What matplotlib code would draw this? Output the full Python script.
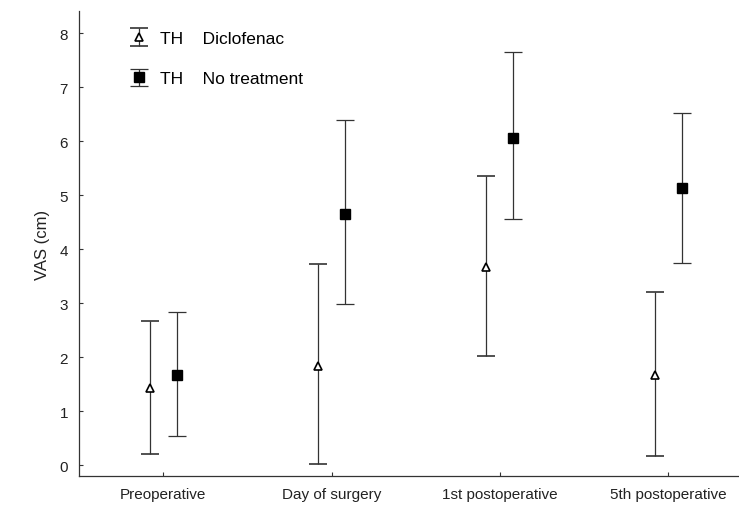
import matplotlib
matplotlib.use("Agg")
import matplotlib.pyplot as plt
import numpy as np

plt.rcParams['font.family'] = ['Liberation Sans', 'DejaVu Sans']

groups = ['Preoperative', 'Day of surgery', '1st postoperative', '5th postoperative']

# Diclofenac: mean, lower, upper
dic_mean = [1.43, 1.84, 3.67, 1.67]
dic_low = [0.20, 0.02, 2.02, 0.17]
dic_high = [2.67, 3.72, 5.35, 3.20]

# No treatment
nt_mean = [1.67, 4.65, 6.07, 5.13]
nt_low = [0.54, 2.98, 4.56, 3.75]
nt_high = [2.83, 6.39, 7.65, 6.53]

line_col = '#333333'
x = np.arange(len(groups))
off = 0.08

fig = plt.figure(figsize=(7.39, 5.10), dpi=100)
ax = fig.add_axes([0.107, 0.065, 0.893, 0.911])

dm = np.array(dic_mean)
ax.errorbar(x - off, dm, yerr=[dm - np.array(dic_low), np.array(dic_high) - dm],
            fmt='^', color=line_col, mfc='white', mec='black', mew=1.2, ms=6,
            ecolor=line_col, elinewidth=0.9, capsize=6.5, capthick=0.9,
            label='TH    Diclofenac')
nm = np.array(nt_mean)
ax.errorbar(x + off, nm, yerr=[nm - np.array(nt_low), np.array(nt_high) - nm],
            fmt='s', color=line_col, mfc='black', mec='black', ms=7,
            ecolor=line_col, elinewidth=0.9, capsize=6.5, capthick=0.9,
            label='TH    No treatment')

ax.set_xlim(-0.5, 3.42)
ax.set_ylim(-0.2, 8.41)
ax.set_xticks(x)
ax.set_xticklabels(groups)
ax.set_yticks(range(0, 9))
ax.set_ylabel('VAS (cm)', fontsize=12, color='#222222', labelpad=7)
ax.tick_params(direction='in', length=3, width=0.8, labelsize=11,
               colors=line_col, labelcolor='#222222')
ax.tick_params(axis='x', pad=8)
ax.tick_params(axis='y', pad=8)
for s in ['top', 'right']:
    ax.spines[s].set_visible(False)
for s in ['left', 'bottom']:
    ax.spines[s].set_color(line_col)
    ax.spines[s].set_linewidth(0.9)

ax.legend(loc='upper left', bbox_to_anchor=(124 / 739, 1 - 32 / 510),
          bbox_transform=fig.transFigure, frameon=False, borderpad=0,
          borderaxespad=0, fontsize=12.5, handlelength=1.7, handletextpad=0.4,
          labelspacing=1.45)

fig.savefig('out.png', dpi=100)
